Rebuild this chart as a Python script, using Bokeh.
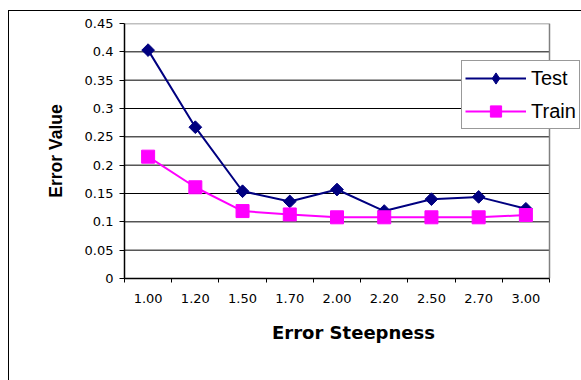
from bokeh.plotting import figure
from bokeh.models import Range1d, FixedTicker, Legend, LegendItem
from bokeh.embed import file_html
from bokeh.resources import INLINE
import math

# Error per steepness setting
categories = ["1.00", "1.20", "1.50", "1.70", "2.00", "2.20", "2.50", "2.70", "3.00"]
test_error = [0.403, 0.267, 0.154, 0.136, 0.157, 0.119, 0.140, 0.144, 0.123]
train_error = [0.215, 0.161, 0.119, 0.113, 0.108, 0.108, 0.108, 0.108, 0.112]
y_ticks = [0, 0.05, 0.1, 0.15, 0.2, 0.25, 0.3, 0.35, 0.4, 0.45]
y_tick_labels = ["0", "0.05", "0.1", "0.15", "0.2", "0.25", "0.3", "0.35", "0.4", "0.45"]

n = len(categories)
y_max = y_ticks[-1]
# each category occupies one unit slot, point sits at the slot centre
xs = [i + 0.5 for i in range(n)]

# the chart area sits inside a thin black frame offset from the page corner
W, H = 573, 370
plot_left, plot_top, plot_bottom = 115, 12, 267
slot_px = 425 / n
p = figure(width=W, height=H, output_backend="svg", toolbar_location=None,
           x_range=Range1d(0, (W - plot_left) / slot_px), y_range=Range1d(0, y_max),
           min_border_left=plot_left, min_border_right=0, min_border_top=plot_top,
           min_border_bottom=H - plot_bottom)
p.styles = {"margin-left": "8px", "margin-top": "10px",
            "border-left": "1px solid #000", "border-top": "1px solid #000"}
p.background_fill_color = "white"
p.border_fill_color = "white"
p.outline_line_color = None

# x axis: labels at slot centres, tick marks at slot boundaries
p.xaxis.ticker = FixedTicker(ticks=xs, minor_ticks=list(range(n + 1)))
p.xaxis.major_label_overrides = {x: c for x, c in zip(xs, categories)}
p.xaxis.bounds = (0, n)
p.xaxis.major_tick_out = 0
p.xaxis.major_tick_in = 0
p.xaxis.minor_tick_out = 4
p.xaxis.minor_tick_in = 0
p.xaxis.major_label_standoff = 11
p.xaxis.axis_label = "Error Steepness"
p.xaxis.axis_label_standoff = 16

p.yaxis.ticker = FixedTicker(ticks=y_ticks)
p.yaxis.major_label_overrides = {t: s for t, s in zip(y_ticks, y_tick_labels)}
p.yaxis.major_tick_out = 5
p.yaxis.major_tick_in = 0
p.yaxis.minor_tick_out = 0
p.yaxis.minor_tick_in = 0
p.yaxis.major_label_standoff = 6
p.yaxis.axis_label = "Error Value"
p.yaxis.axis_label_standoff = 16

for ax in (p.xaxis, p.yaxis):
    ax.axis_line_color = "#000000"
    ax.axis_line_width = 1.5
    ax.major_tick_line_color = "#000000"
    ax.minor_tick_line_color = "#000000"
    ax.major_label_text_font = "DejaVu Sans"
    ax.major_label_text_font_size = "13px"
    ax.major_label_text_color = "#000000"
    ax.axis_label_text_font_style = "bold"
    ax.axis_label_text_color = "#000000"

p.xaxis.axis_label_text_font = "DejaVu Sans"
p.xaxis.axis_label_text_font_size = "18px"
p.yaxis.axis_label_text_font = "Liberation Sans"
p.yaxis.axis_label_text_font_size = "17.5px"

# horizontal gridlines across the plot area only, grey border on top and right
p.xgrid.visible = False
p.ygrid.visible = False
inner = y_ticks[1:-1]
p.segment(x0=[0] * len(inner), x1=[n] * len(inner), y0=inner, y1=inner,
          line_color="#000000", line_width=1)
p.line([0, n, n], [y_max, y_max, 0], line_color="#808080", line_width=1.5)

# series
navy = "#000080"
magenta = "#FF00FF"
tl = p.line(xs, test_error, line_color=navy, line_width=2)
# zero-size diamonds only supply the legend swatch (legend glyphs are drawn unrotated)
ts_key = p.scatter(xs, test_error, marker="diamond", size=0,
                   fill_color=navy, line_color=navy)
ts = p.scatter(xs, test_error, marker="square", angle=math.pi / 4, size=9,
               fill_color=navy, line_color=navy)
rl = p.line(xs, train_error, line_color=magenta, line_width=2)
rs = p.scatter(xs, train_error, marker="square", size=13,
               fill_color=magenta, line_color=magenta)

legend = Legend(items=[LegendItem(label="Test", renderers=[tl, ts_key]),
                       LegendItem(label="Train", renderers=[rl, rs])],
                location=(337, 149))
legend.margin = 0
legend.padding = 3
legend.spacing = 5
legend.glyph_width = 61
legend.glyph_height = 28
legend.label_standoff = 5
legend.label_text_font = "Liberation Sans"
legend.label_text_font_size = "20px"
legend.label_text_color = "#000000"
legend.border_line_color = "#333333"
legend.border_line_width = 1
legend.background_fill_color = "white"
legend.background_fill_alpha = 1
p.add_layout(legend, "center")

open("out.html", "w").write(file_html(p, INLINE))
